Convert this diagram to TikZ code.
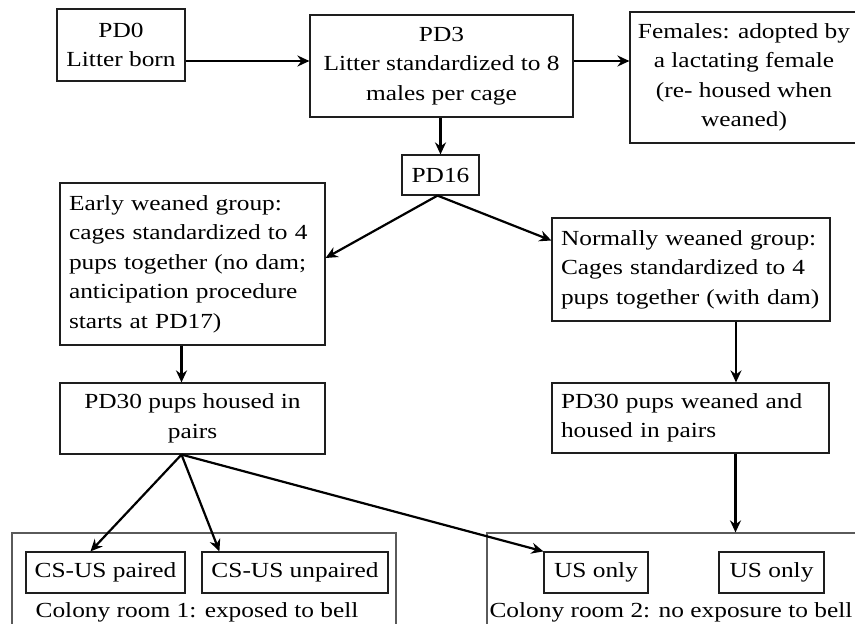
\documentclass[tikz,border=0pt]{standalone}
\usepackage{fontspec}
\setmainfont{Liberation Serif}[FakeStretch=1.18]
\usepackage{xcolor}
\usepackage{tikz}
\usetikzlibrary{arrows.meta}
\definecolor{roomgray}{RGB}{90,90,90}
\definecolor{boxline}{RGB}{30,30,30}

\begin{document}
\begin{tikzpicture}[x=1pt, y=-1pt,
  box/.style={draw=boxline, line width=1.2pt, inner sep=0pt, align=center,
    font=\fontsize{21.5}{29.5}\selectfont},
  leftbox/.style={box, align=left, inner xsep=9pt, text width=#1},
  room/.style={draw=roomgray, line width=1.2pt, inner sep=0pt},
  roomlabel/.style={anchor=base, inner sep=0pt, font=\fontsize{21.5}{29.5}\selectfont},
  arr/.style={line width=2.2pt, -{Stealth[length=12pt, width=11pt, inset=4pt]}}]
\useasboundingbox (0,0) rectangle (855,624);
% top row
\node[box, minimum width=128pt, minimum height=72pt] (pd0) at (121,45) {PD0\\Litter born};
\node[box, minimum width=263pt, minimum height=102pt] (pd3) at (441.5,66) {PD3\\Litter standardized to 8\\males per cage};
\node[box, minimum width=228pt, minimum height=131pt] (fem) at (744,77.5) {Females: adopted by\\a lactating female\\(re- housed when\\weaned)};
\node[box, minimum width=77pt, minimum height=40pt] (pd16) at (440.5,175) {PD16};
% the two groups
\node[leftbox=247pt, minimum height=162pt] (early) at (192.5,264) {Early weaned group:\\cages standardized to 4\\pups together (no dam;\\anticipation procedure\\starts at PD17)};
\node[leftbox=260pt, minimum height=103pt] (normal) at (691,269.5) {Normally weaned group:\\Cages standardized to 4\\pups together (with dam)};
\node[box, minimum width=265pt, minimum height=71pt] (pd30a) at (192.5,418.5) {PD30 pups housed in\\pairs};
\node[leftbox=259pt, minimum height=70pt] (pd30b) at (690.5,418) {PD30 pups weaned and\\housed in pairs};
% colony rooms
\node[room, minimum width=384pt, minimum height=127pt] (room1) at (204,596.5) {};
\node[room, minimum width=383pt, minimum height=127pt] (room2) at (678.5,596.5) {};
\node[box, minimum width=159pt, minimum height=41pt] (csp) at (105.5,572.5) {CS-US paired};
\node[box, minimum width=186pt, minimum height=41pt] (csu) at (295,572.5) {CS-US unpaired};
\node[box, minimum width=104pt, minimum height=41pt] (us1) at (596,572.5) {US only};
\node[box, minimum width=105pt, minimum height=41pt] (us2) at (771.5,572.5) {US only};
\node[roomlabel] (lbl1) at (197,617) {Colony room 1: exposed to bell};
\node[roomlabel] (lbl2) at (671,617) {Colony room 2: no exposure to bell};
% arrows
\draw[arr] ([yshift=-16pt]pd0.east) -- ([yshift=-16pt]pd0.east -| pd3.west);
\draw[arr] ([yshift=5pt]pd3.east) -- ([yshift=5pt]pd3.east -| fem.west);
\draw[arr] (pd16.north |- pd3.south) -- (pd16.north);
\draw[arr] ([xshift=-3pt]pd16.south) -- ([yshift=6pt]early.east);
\draw[arr] ([xshift=-3pt]pd16.south) -- ([yshift=29pt]normal.west);
\draw[arr] ([xshift=-11pt]early.south) -- ([xshift=-11pt]pd30a.north);
\draw[arr] ([xshift=45pt]normal.south) -- ([xshift=45pt]normal.south |- pd30b.north);
\draw[arr] ([xshift=45pt]pd30b.south) -- ([xshift=45pt]pd30b.south |- room2.north);
\draw[arr] ([xshift=-11pt]pd30a.south) -- ([xshift=-15pt]csp.north);
\draw[arr] ([xshift=-11pt]pd30a.south) -- ([xshift=18pt]csu.north west);
\draw[arr] ([xshift=-11pt]pd30a.south) -- (us1.north west);
\end{tikzpicture}
\end{document}
